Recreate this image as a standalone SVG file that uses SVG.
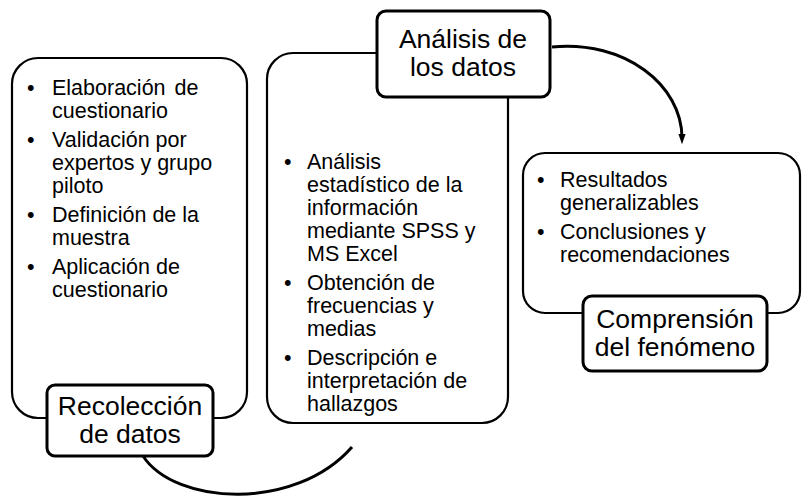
<svg xmlns="http://www.w3.org/2000/svg" width="802" height="500" viewBox="0 0 802 500">
<defs>
<style>
.big{fill:#fff;stroke:#000;stroke-width:2.2}
.lab{fill:#fff;stroke:#000;stroke-width:3}
.t{font-family:"Liberation Sans",Arial,sans-serif;font-size:21.5px;fill:#000}
.h{font-family:"Liberation Sans",Arial,sans-serif;font-size:26.5px;fill:#000;text-anchor:middle}
.c{fill:none;stroke:#000;stroke-width:3}
</style>
<marker id="ah" viewBox="0 0 10 10" refX="4" refY="5" markerWidth="3.5" markerHeight="3.5" orient="auto">
<path d="M0,1.5 L10,5 L0,8.5 z" fill="#000"/>
</marker>
</defs>
<g id="connectors">
<path class="c" d="M143,456 C175,505 295,512 352,447"/>
<path class="c" d="M552,47 C625,40 682,85 682,138" marker-end="url(#ah)"/>
</g>
<g id="node-recoleccion">
<rect class="big" x="12" y="58" width="235" height="360" rx="26"/>
<text class="t"><tspan x="27" y="95">•</tspan><tspan x="52" y="95" word-spacing="3">Elaboración de</tspan>
<tspan x="52" y="118">cuestionario</tspan>
<tspan x="27" y="147">•</tspan><tspan x="52" y="147">Validación por</tspan>
<tspan x="52" y="170">expertos y grupo</tspan>
<tspan x="52" y="193">piloto</tspan>
<tspan x="27" y="222">•</tspan><tspan x="52" y="222">Definición de la</tspan>
<tspan x="52" y="245">muestra</tspan>
<tspan x="27" y="274">•</tspan><tspan x="52" y="274">Aplicación de</tspan>
<tspan x="52" y="297">cuestionario</tspan></text>
<rect class="lab" x="47" y="385" width="166" height="71" rx="8"/>
<text class="h"><tspan x="130" y="415">Recolección</tspan><tspan x="130" y="443">de datos</tspan></text>
</g>
<g id="node-analisis">
<rect class="big" x="267" y="53" width="241" height="370" rx="26"/>
<text class="t"><tspan x="284" y="169">•</tspan><tspan x="307" y="169">Análisis</tspan>
<tspan x="307" y="192">estadístico de la</tspan>
<tspan x="307" y="215">información</tspan>
<tspan x="307" y="238">mediante SPSS y</tspan>
<tspan x="307" y="261">MS Excel</tspan>
<tspan x="284" y="290">•</tspan><tspan x="307" y="290">Obtención de</tspan>
<tspan x="307" y="313">frecuencias y</tspan>
<tspan x="307" y="336">medias</tspan>
<tspan x="284" y="365">•</tspan><tspan x="307" y="365">Descripción e</tspan>
<tspan x="307" y="388">interpretación de</tspan>
<tspan x="307" y="411">hallazgos</tspan></text>
<rect class="lab" x="377" y="11" width="173" height="86" rx="9"/>
<text class="h"><tspan x="463" y="48">Análisis de</tspan><tspan x="463" y="76">los datos</tspan></text>
</g>
<g id="node-comprension">
<rect class="big" x="523" y="153" width="277" height="160" rx="22"/>
<text class="t"><tspan x="537" y="187">•</tspan><tspan x="560" y="187">Resultados</tspan>
<tspan x="560" y="210">generalizables</tspan>
<tspan x="537" y="239">•</tspan><tspan x="560" y="239">Conclusiones y</tspan>
<tspan x="560" y="262">recomendaciones</tspan></text>
<rect class="lab" x="583" y="296" width="184" height="75" rx="9"/>
<text class="h"><tspan x="675" y="328">Comprensión</tspan><tspan x="675" y="356">del fenómeno</tspan></text>
</g>
</svg>
